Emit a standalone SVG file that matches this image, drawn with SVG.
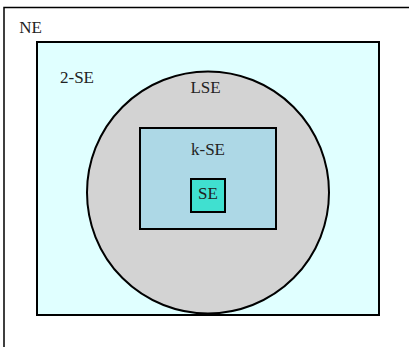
<svg xmlns="http://www.w3.org/2000/svg" width="409" height="347" viewBox="0 0 409 347">
<style>
.shape{stroke:#000;stroke-width:2}
.lbl{font-family:"Liberation Serif","Times New Roman",serif;font-size:17px;fill:#222;text-anchor:middle}
</style>
<rect width="409" height="347" fill="#fff"/>
<g id="NE">
<rect x="4" y="7.5" width="420" height="360" fill="#fff" stroke="#000" stroke-width="1.5"/>
<text class="lbl" x="30.5" y="33" font-family="Liberation Serif, serif">NE</text>
</g>
<g id="TwoSE">
<rect class="shape" x="37" y="42" width="342" height="273" fill="#E0FFFF"/>
<text class="lbl" x="77" y="83" font-family="Liberation Serif, serif">2-SE</text>
</g>
<g id="LSE">
<circle class="shape" cx="208" cy="192.5" r="121" fill="#D3D3D3"/>
<text class="lbl" x="205.5" y="93" font-family="Liberation Serif, serif">LSE</text>
</g>
<g id="kSE">
<rect class="shape" x="140" y="128" width="136" height="101" fill="#ADD8E6"/>
<text class="lbl" x="208" y="155" font-family="Liberation Serif, serif">k-SE</text>
</g>
<g id="SE">
<rect class="shape" x="191" y="179" width="34" height="33" fill="#40E0D0"/>
<text class="lbl" x="208" y="199" font-family="Liberation Serif, serif">SE</text>
</g>
<g id="connectors"></g>
</svg>
